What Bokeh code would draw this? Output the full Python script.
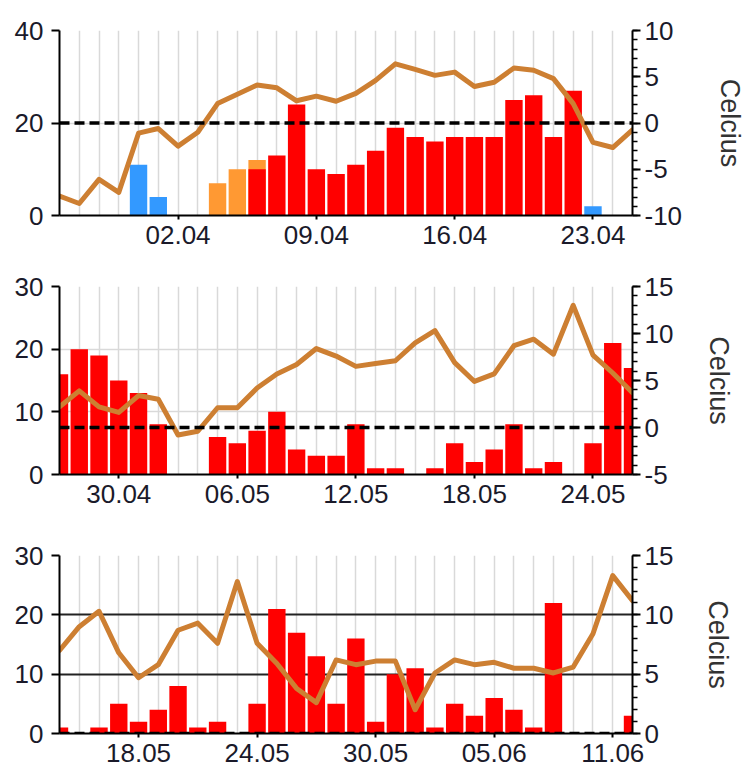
from bokeh.plotting import figure
from bokeh.models import Range1d, LinearAxis, FixedTicker, Span
from bokeh.layouts import column
from bokeh.embed import file_html
from bokeh.resources import INLINE

# ---------------- data ----------------
p1_dates = ["27.03", "28.03", "29.03", "30.03", "31.03", "01.04", "02.04", "03.04", "04.04", "05.04",
            "06.04", "07.04", "08.04", "09.04", "10.04", "11.04", "12.04", "13.04", "14.04", "15.04",
            "16.04", "17.04", "18.04", "19.04", "20.04", "21.04", "22.04", "23.04", "24.04", "25.04"]
p1_tick_labels = ["02.04", "09.04", "16.04", "23.04"]
p1_rain = [0, 0, 0, 0, 0, 0, 0, 0, 0, 0, 10, 13, 24, 10, 9, 11, 14, 19, 17, 16,
           17, 17, 17, 25, 26, 17, 27, 0, 0, 0]
p1_sleet = [0, 0, 0, 0, 0, 0, 0, 0, 7, 10, 12, 0, 0, 0, 0, 0, 0, 0, 0, 0,
            0, 0, 0, 0, 0, 0, 0, 0, 0, 0]
p1_snow = [0, 0, 0, 0, 11, 4, 0, 0, 0, 0, 0, 0, 0, 0, 0, 0, 0, 0, 0, 0,
           0, 0, 0, 0, 0, 0, 0, 2, 0, 0]
p1_temp = [-7.9, -8.7, -6.1, -7.5, -1.1, -0.6, -2.5, -1.0, 2.1, 3.1, 4.1, 3.8, 2.4, 2.9, 2.35,
           3.2, 4.6, 6.4, 5.8, 5.15, 5.5, 3.95, 4.4, 5.95, 5.7, 4.8, 2.1, -2.1, -2.65, -0.75]
p1_left_ticks = [0, 20, 40]
p1_right_ticks = [-10, -5, 0, 5, 10]

p2_dates = ["27.04", "28.04", "29.04", "30.04", "01.05", "02.05", "03.05", "04.05", "05.05", "06.05",
            "07.05", "08.05", "09.05", "10.05", "11.05", "12.05", "13.05", "14.05", "15.05", "16.05",
            "17.05", "18.05", "19.05", "20.05", "21.05", "22.05", "23.05", "24.05", "25.05", "26.05"]
p2_tick_labels = ["30.04", "06.05", "12.05", "18.05", "24.05"]
p2_rain = [16, 20, 19, 15, 13, 8, 0, 0, 6, 5, 7, 10, 4, 3, 3, 8, 1, 1, 0, 1,
           5, 2, 4, 8, 1, 2, 0, 5, 21, 17]
p2_temp = [2.2, 3.9, 2.2, 1.6, 3.4, 3.0, -0.8, -0.4, 2.1, 2.1, 4.2, 5.7, 6.7, 8.4, 7.6,
           6.5, 6.8, 7.1, 9.0, 10.3, 6.9, 4.9, 5.7, 8.7, 9.4, 7.8, 13.0, 7.7, 5.8, 3.7]
p2_left_ticks = [0, 10, 20, 30]
p2_right_ticks = [-5, 0, 5, 10, 15]

p3_dates = ["14.05", "15.05", "16.05", "17.05", "18.05", "19.05", "20.05", "21.05", "22.05", "23.05",
            "24.05", "25.05", "26.05", "27.05", "28.05", "29.05", "30.05", "31.05", "01.06", "02.06",
            "03.06", "04.06", "05.06", "06.06", "07.06", "08.06", "09.06", "10.06", "11.06", "12.06"]
p3_tick_labels = ["18.05", "24.05", "30.05", "05.06", "11.06"]
p3_rain = [1, 0, 1, 5, 2, 4, 8, 1, 2, 0, 5, 21, 17, 13, 5, 16, 2, 10, 11, 1,
           5, 3, 6, 4, 1, 22, 0, 0, 0, 3]
p3_temp = [7.0, 9.0, 10.3, 6.8, 4.7, 5.8, 8.7, 9.3, 7.6, 12.8, 7.6, 5.9, 3.8, 2.6, 6.2,
           5.8, 6.1, 6.1, 2.0, 5.1, 6.2, 5.8, 6.0, 5.5, 5.5, 5.1, 5.6, 8.4, 13.3, 11.2]
p3_left_ticks = [0, 10, 20, 30]
p3_right_ticks = [0, 5, 10, 15]

RED = "#FF0000"
ORANGE = "#FF9933"
BLUE = "#3399FF"
LINE = "#CD7F32"
FONT = "Liberation Sans"
TICK_COLOR = "#1A1A2A"


def make_panel(dates, tick_labels, bars, temp, left_ticks, right_ticks,
               grid_color, grid_width, height, borders, label_standoff):
    n = len(dates)
    xs = list(range(n))
    b_left, b_right, b_top, b_bottom = borders
    p = figure(width=755, height=height,
               x_range=Range1d(0, n - 1),
               y_range=Range1d(left_ticks[0], left_ticks[-1]),
               toolbar_location=None, output_backend="svg",
               min_border_left=b_left, min_border_right=b_right,
               min_border_top=b_top, min_border_bottom=b_bottom)
    p.outline_line_color = None
    p.background_fill_color = "white"
    p.border_fill_color = "white"
    p.extra_y_ranges = {"temp": Range1d(right_ticks[0], right_ticks[-1])}

    # grids
    p.xgrid.ticker = FixedTicker(ticks=xs)
    p.xgrid.grid_line_color = "#D9D9D9"
    p.xgrid.grid_line_width = 1.5
    p.ygrid.ticker = FixedTicker(ticks=left_ticks)
    p.ygrid.grid_line_color = grid_color
    p.ygrid.grid_line_width = grid_width

    # bars
    for values, color in bars:
        p.vbar(x=xs, top=values, width=0.88, fill_color=color, line_color=None)

    # zero-degree dashed line
    span = Span(location=0, dimension="width", y_range_name="temp",
                line_color="black", line_width=3.5, line_dash="10 5")
    p.add_layout(span)

    # temperature line
    p.line(xs, temp, y_range_name="temp", line_color=LINE, line_width=5,
           line_join="round", line_cap="round")

    # x axis
    xa = p.below[0]
    tick_idx = [dates.index(d) for d in tick_labels]
    xa.ticker = FixedTicker(ticks=tick_idx, minor_ticks=[])
    xa.major_label_overrides = {i: dates[i] for i in tick_idx}
    xa.major_tick_out = 4
    xa.major_tick_in = 0
    xa.major_label_standoff = 6

    # left axis
    ya = p.left[0]
    ya.ticker = FixedTicker(ticks=left_ticks, minor_ticks=[])
    ya.major_label_overrides = {v: str(v) for v in left_ticks}
    ya.major_tick_out = 8
    ya.major_tick_in = 0
    ya.major_label_standoff = 8

    # right axis
    minors = list(range(right_ticks[0], right_ticks[-1] + 1))
    ra = LinearAxis(y_range_name="temp",
                    ticker=FixedTicker(ticks=right_ticks, minor_ticks=minors))
    ra.major_label_overrides = {v: str(v) for v in right_ticks}
    ra.major_tick_out = 8
    ra.major_tick_in = 0
    ra.minor_tick_out = 5
    ra.minor_tick_in = 0
    ra.major_label_standoff = 4
    ra.axis_label = "Celcius"
    ra.axis_label_text_font = FONT
    ra.axis_label_text_font_size = "27px"
    ra.axis_label_text_font_style = "normal"
    ra.axis_label_text_color = "#333333"
    ra.axis_label_standoff = label_standoff
    p.add_layout(ra, "right")

    for ax in (xa, ya, ra):
        ax.axis_line_color = "black"
        ax.axis_line_width = 2
        ax.major_tick_line_color = "black"
        ax.major_tick_line_width = 2
        ax.minor_tick_line_color = "black"
        ax.minor_tick_line_width = 1.5
        ax.major_label_text_font = FONT
        ax.major_label_text_font_size = "26px"
        ax.major_label_text_color = TICK_COLOR
    return p


p1 = make_panel(p1_dates, p1_tick_labels,
                [(p1_sleet, ORANGE), (p1_rain, RED), (p1_snow, BLUE)],
                p1_temp, p1_left_ticks, p1_right_ticks,
                "#D9D9D9", 1.5, 258, (59, 123, 30, 43), 30)
p2 = make_panel(p2_dates, p2_tick_labels, [(p2_rain, RED)],
                p2_temp, p2_left_ticks, p2_right_ticks,
                "#D9D9D9", 1.5, 258, (57, 104, 28, 42), 28)
p3 = make_panel(p3_dates, p3_tick_labels, [(p3_rain, RED)],
                p3_temp, p3_left_ticks, p3_right_ticks,
                "#222222", 2, 260, (58, 100, 39, 43), 27)

layout = column(p1, p2, p3, spacing=0)
open("out.html", "w").write(file_html(layout, INLINE))
